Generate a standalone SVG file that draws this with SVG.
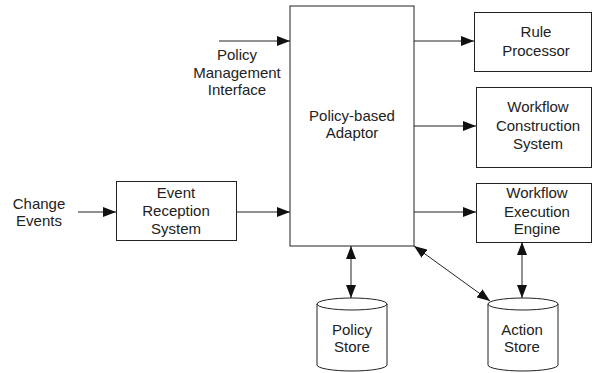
<svg xmlns="http://www.w3.org/2000/svg" width="594" height="373" viewBox="0 0 594 373">
  <defs>
    <marker id="head" viewBox="0 0 13 10" refX="13" refY="5" markerWidth="13" markerHeight="10" markerUnits="userSpaceOnUse" orient="auto-start-reverse">
      <path d="M0,0 L13,5 L0,10 z" fill="#111"/>
    </marker>
  </defs>
  <style>
    .box { fill: #fff; stroke: #222; stroke-width: 1; }
    .link { fill: none; stroke: #222; stroke-width: 1; marker-end: url(#head); }
    .both { marker-start: url(#head); }
    text { font-family: "Liberation Sans", Arial, sans-serif; font-size: 15px; fill: #222; text-anchor: middle; }
  </style>
  <rect width="594" height="373" fill="#fff"/>

  <g id="policy-management-interface">
    <text x="237" y="60">Policy</text>
    <text x="237" y="78">Management</text>
    <text x="237" y="95">Interface</text>
  </g>

  <g id="change-events">
    <text x="39" y="209">Change</text>
    <text x="39" y="226">Events</text>
  </g>

  <g id="policy-based-adaptor">
    <rect class="box" x="290" y="6" width="124" height="240"/>
    <text x="352" y="121">Policy-based</text>
    <text x="352" y="138">Adaptor</text>
  </g>

  <g id="event-reception-system">
    <rect class="box" x="116.5" y="181.5" width="120" height="59"/>
    <text x="176" y="198">Event</text>
    <text x="176" y="216">Reception</text>
    <text x="176" y="234">System</text>
  </g>

  <g id="rule-processor">
    <rect class="box" x="474.5" y="12.5" width="117" height="59"/>
    <text x="536" y="37">Rule</text>
    <text x="536" y="56">Processor</text>
  </g>

  <g id="workflow-construction-system">
    <rect class="box" x="476.5" y="87.5" width="115" height="80"/>
    <text x="538" y="112">Workflow</text>
    <text x="538" y="131">Construction</text>
    <text x="538" y="149">System</text>
  </g>

  <g id="workflow-execution-engine">
    <rect class="box" x="476.5" y="183.5" width="115" height="59"/>
    <text x="537" y="198">Workflow</text>
    <text x="537" y="217">Execution</text>
    <text x="537" y="234">Engine</text>
  </g>

  <g id="policy-store">
    <path class="box" d="M317,304 A35,6 0 0 1 387,304 L387,365 A35,6 0 0 1 317,365 Z"/>
    <path d="M317,304 A35,6 0 0 0 387,304" fill="none" stroke="#222" stroke-width="1"/>
    <text x="352" y="335">Policy</text>
    <text x="352" y="352">Store</text>
  </g>

  <g id="action-store">
    <path class="box" d="M488,304 A35,6 0 0 1 558,304 L558,365 A35,6 0 0 1 488,365 Z"/>
    <path d="M488,304 A35,6 0 0 0 558,304" fill="none" stroke="#222" stroke-width="1"/>
    <text x="522" y="335">Action</text>
    <text x="522" y="352">Store</text>
  </g>

  <g id="connectors">
    <line class="link" x1="219" y1="41" x2="290" y2="41"/>
    <line class="link" x1="414" y1="41" x2="474" y2="41"/>
    <line class="link" x1="414" y1="126" x2="476" y2="126"/>
    <line class="link" x1="414" y1="212" x2="476" y2="212"/>
    <line class="link" x1="78" y1="212" x2="116" y2="212"/>
    <line class="link" x1="236" y1="212" x2="290" y2="212"/>
    <line class="link both" x1="351" y1="246" x2="351" y2="298"/>
    <line class="link both" x1="522" y1="242" x2="522" y2="298"/>
    <line class="link both" x1="414" y1="246" x2="490" y2="301"/>
  </g>
</svg>
